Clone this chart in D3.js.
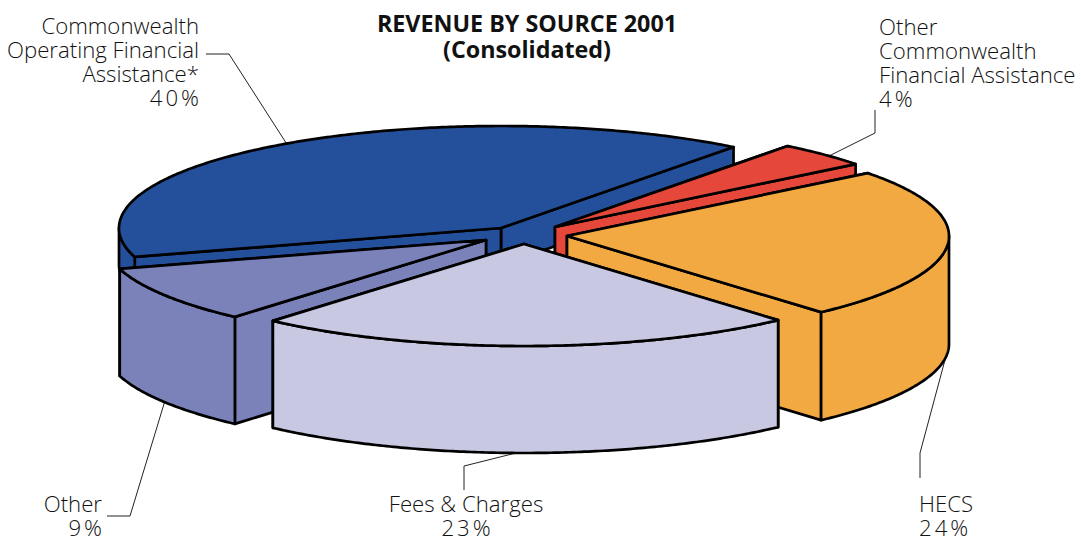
<!DOCTYPE html>
<html><head><meta charset="utf-8">
<script src="https://cdn.jsdelivr.net/npm/d3@7"></script>
<style>html,body{margin:0;background:#fff}svg{display:block}</style>
</head><body><svg id="c" width="1081" height="542"></svg>
<script>
const categories = ["Commonwealth Operating Financial Assistance*","Other Commonwealth Financial Assistance","HECS","Fees & Charges","Other"];
const values = [40,4,24,23,9];
const colors = ["#24509b","#e5473a","#f2a941","#c8c8e2","#7a82b9"];
const apexX = [501,555,567,524,486];
const apexY = [228,227,236,244,240];
const wallDepth = [37,107,108,107,107];
const titleLines = ["REVENUE BY SOURCE 2001","(Consolidated)"];
const labels = [
 {lines:["Commonwealth","Operating Financial","Assistance*","40%"],x:199,y:34,anchor:"end",leader:[[206,54],[229,54],[290,149]]},
 {lines:["Other","Commonwealth","Financial Assistance","4%"],x:879,y:35,anchor:"start",leader:[[875,110],[875,133],[825,158]]},
 {lines:["HECS","24%"],x:919,y:511.5,anchor:"start",leader:[[920,478],[920,453],[949,345]]},
 {lines:["Fees & Charges","23%"],x:466,y:511.5,anchor:"middle",leader:[[464,490],[464,466],[532,449]]},
 {lines:["Other","9%"],x:102,y:511.5,anchor:"end",leader:[[107,516],[130,516],[167,394]]}
];
const RX=382, RY=102, START=-106.5*Math.PI/180;
const FONT='"Open Sans","Noto Sans",sans-serif';
const PCT_SPACING=3;
const svg=d3.select("#c");
const pie=d3.pie().sort(null).startAngle(START).endAngle(START+2*Math.PI);
const arcs=pie(values);
const px=(i,a)=>apexX[i]+RX*Math.sin(a), py=(i,a)=>apexY[i]-RY*Math.cos(a);
const line=d3.line();
const samples=(a,b)=>{const n=Math.max(2,Math.ceil(Math.abs(b-a)/0.01));return d3.range(n+1).map(k=>a+(b-a)*k/n);};
// leaders sit underneath the pie so that they stop at its rim
labels.forEach(l=>{
  svg.append("path").attr("d",line(l.leader)).attr("fill","none").attr("stroke","#222").attr("stroke-width",1);
});
// painter order: back to front
[0,1,2,4,3].forEach(i=>{
  const d=arcs[i], a=d.startAngle, b=d.endAngle, g=svg.append("g"), D=wallDepth[i];
  const style=s=>s.attr("fill",colors[i]).attr("stroke","#000").attr("stroke-width",2.7).attr("stroke-linejoin","round");
  const ax=apexX[i], ay=apexY[i];
  // radial walls: the one reaching further forward is painted last
  [a,b].sort((p,q)=>py(i,p)-py(i,q)).forEach(t=>{
    style(g.append("path")).attr("d",line([[ax,ay],[px(i,t),py(i,t)],[px(i,t),py(i,t)+D],[ax,ay+D]])+"Z");
  });
  // outer wall: the part of the rim facing the viewer
  const sweep=[];
  for(const [lo,hi] of [[Math.PI/2,3*Math.PI/2],[-3*Math.PI/2,-Math.PI/2]]){
    const s=Math.max(a,lo), e=Math.min(b,hi);
    if(e>s) sweep.push([s,e]);
  }
  sweep.forEach(([s,e])=>{
    const top=samples(s,e).map(t=>[px(i,t),py(i,t)]);
    const bot=samples(e,s).map(t=>[px(i,t),py(i,t)+D]);
    style(g.append("path")).attr("d",line(top.concat(bot))+"Z");
  });
  // top face
  style(g.append("path")).attr("d",line([[ax,ay]].concat(samples(a,b).map(t=>[px(i,t),py(i,t)])))+"Z");
});
// title
svg.append("g").selectAll("text").data(titleLines).join("text")
  .attr("x",527).attr("y",(d,i)=>32+i*26).attr("text-anchor","middle")
  .attr("font-family",FONT).attr("font-weight",700).attr("font-size",23.3).attr("fill","#111").text(d=>d);
// labels
const isPct=s=>s.endsWith("%");
labels.forEach(l=>{
  const shift=l.anchor==="end"?PCT_SPACING:l.anchor==="middle"?PCT_SPACING/2:0;
  svg.append("g").selectAll("text").data(l.lines).join("text")
    .attr("x",d=>l.x+(isPct(d)?shift:0)).attr("y",(d,i)=>l.y+i*24).attr("text-anchor",l.anchor)
    .attr("letter-spacing",d=>isPct(d)?PCT_SPACING:0)
    .attr("font-family",FONT).attr("font-weight",300).attr("font-size",22.2).attr("fill","#111").text(d=>d);
});
</script></body></html>
